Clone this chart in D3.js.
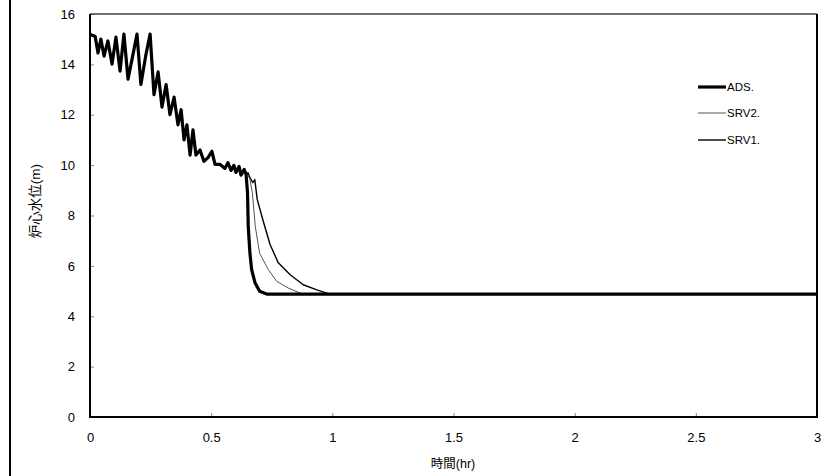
<!DOCTYPE html>
<html><head><meta charset="utf-8">
<script src="https://cdn.jsdelivr.net/npm/d3@7"></script>
<style>
html,body{margin:0;padding:0;background:#fff;}
svg{display:block;}
text{font-family:"Liberation Sans Narrow","Liberation Sans",Arial,"Noto Sans CJK JP",sans-serif;fill:#000;}
</style></head>
<body>
<svg id="chart" width="824" height="476"></svg>
<script>
// ---- data ----
const xTicks = [0, 0.5, 1, 1.5, 2, 2.5, 3];
const yTicks = [0, 2, 4, 6, 8, 10, 12, 14, 16];
const seriesNames = ["ADS.", "SRV2.", "SRV1."];
const xTitle = "時間(hr)";
const yTitle = "炉心水位(m)";

// shared early transient (hr, m)
const commonT = [0,0.008,0.021,0.033,0.045,0.058,0.074,0.091,0.107,0.124,0.14,0.157,0.194,0.21,0.231,0.248,0.264,0.281,0.297,0.314,0.33,0.347,0.363,0.376,0.388,0.4,0.413,0.425,0.437,0.454,0.47,0.487,0.503,0.516,0.536,0.557,0.569,0.582,0.594,0.602,0.615,0.623,0.636,0.644];
const commonV = [15.2,15.16,15.12,14.45,15.0,14.33,14.93,14.01,15.08,13.73,15.2,13.41,15.2,13.2,14.4,15.2,12.8,13.7,12.3,13.2,12.0,12.7,11.6,12.2,11.0,11.6,10.4,11.4,10.4,10.6,10.15,10.3,10.55,10.03,10.03,9.87,10.1,9.79,9.99,9.71,9.95,9.6,9.83,9.63];

const adsTailT = [0.65,0.653,0.66,0.667,0.681,0.70,0.729,3.0];
const adsTailV = [8.9,7.57,6.5,5.85,5.33,4.99,4.88,4.88];

const srv2TailT = [0.652,0.66,0.67,0.682,0.70,0.736,0.77,0.818,0.867,0.875,3.0];
const srv2TailV = [9.6,9.43,8.9,7.57,6.5,5.85,5.39,5.12,4.92,4.88,4.88];

const srv1TailT = [0.652,0.66,0.672,0.68,0.69,0.715,0.743,0.777,0.826,0.88,0.936,0.99,3.0];
const srv1TailV = [9.7,9.5,9.3,9.43,8.64,7.77,6.85,6.12,5.65,5.25,5.05,4.88,4.88];

function build(tt, tv){
  return commonT.map((t,i)=>({t, v:commonV[i]})).concat(tt.map((t,i)=>({t, v:tv[i]})));
}
const seriesData = [build(adsTailT, adsTailV), build(srv2TailT, srv2TailV), build(srv1TailT, srv1TailV)];
const seriesStyle = [
  {stroke:"#000", width:3.2},
  {stroke:"#555", width:1},
  {stroke:"#000", width:1.4}
];

// ---- layout ----
const svg = d3.select("#chart");
const L = 90, T = 14, R = 817, B = 417;
const x = d3.scaleLinear().domain([0,3]).range([L,R]);
const y = d3.scaleLinear().domain([0,16]).range([B,T]);

// outer frame left edge
svg.append("line").attr("x1",10).attr("x2",10).attr("y1",0).attr("y2",476)
  .attr("stroke","#000").attr("stroke-width",2);

// ticks (inward)
const gx = svg.append("g").attr("transform",`translate(0,${B})`)
  .call(d3.axisBottom(x).tickValues(xTicks).tickSize(-4).tickPadding(16).tickFormat(d3.format("")));
gx.select(".domain").remove();
gx.selectAll(".tick line").attr("stroke","#888");
gx.selectAll("text").attr("font-size",13);

const gy = svg.append("g").attr("transform",`translate(${L},0)`)
  .call(d3.axisLeft(y).tickValues(yTicks).tickSize(-4).tickPadding(15).tickFormat(d3.format("")));
gy.select(".domain").remove();
gy.selectAll(".tick line").attr("stroke","#888");
gy.selectAll("text").attr("font-size",13);

// series
const line = d3.line().x(d=>x(d.t)).y(d=>y(d.v));
[2,1,0].forEach(i=>{
  svg.append("path").datum(seriesData[i]).attr("d",line)
    .attr("fill","none").attr("stroke",seriesStyle[i].stroke)
    .attr("stroke-width",seriesStyle[i].width).attr("stroke-linejoin","round");
});

// plot frame
svg.append("line").attr("x1",L).attr("x2",R).attr("y1",T).attr("y2",T).attr("stroke","#444").attr("stroke-width",1.5);
svg.append("line").attr("x1",R).attr("x2",R).attr("y1",T).attr("y2",B).attr("stroke","#000").attr("stroke-width",2);
svg.append("line").attr("x1",L).attr("x2",L).attr("y1",T).attr("y2",B+1).attr("stroke","#000").attr("stroke-width",2);
svg.append("line").attr("x1",L-1).attr("x2",R+1).attr("y1",B).attr("y2",B).attr("stroke","#000").attr("stroke-width",2);

// legend
const legY = [87,113,140];
seriesNames.forEach((n,i)=>{
  svg.append("line").attr("x1",698).attr("x2",726).attr("y1",legY[i]).attr("y2",legY[i])
    .attr("stroke",seriesStyle[i].stroke).attr("stroke-width",seriesStyle[i].width);
  svg.append("text").attr("x",727).attr("y",legY[i]).attr("dy","0.35em").attr("font-size",11.5).text(n);
});

// titles
svg.append("text").attr("x",453).attr("y",464).attr("dy","0.35em").attr("text-anchor","middle")
  .attr("font-size",12.5).attr("font-family","Noto Sans CJK JP").text(xTitle);
svg.append("text").attr("transform","translate(35,201) rotate(-90)").attr("dy","0.35em")
  .attr("text-anchor","middle").attr("font-size",13.5).attr("font-family","Noto Sans CJK JP").text(yTitle);
</script>
</body></html>
